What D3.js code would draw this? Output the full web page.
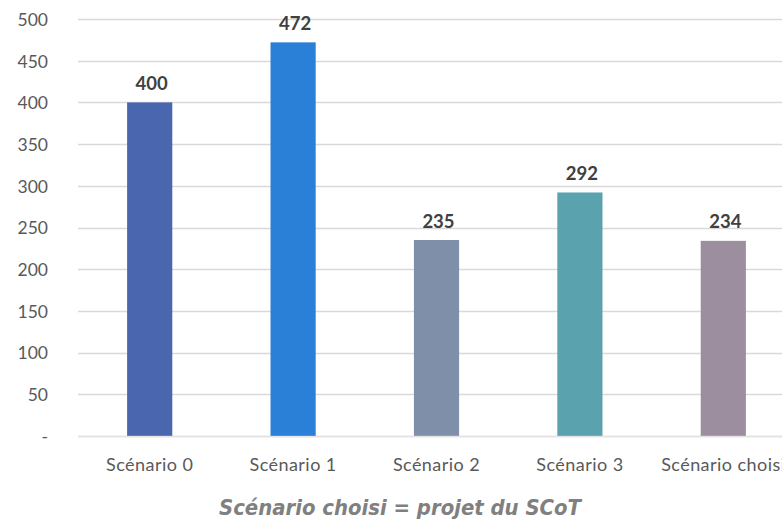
<!DOCTYPE html>
<html>
<head>
<meta charset="utf-8">
<script src="https://cdn.jsdelivr.net/npm/d3@7"></script>
<style>
  html, body { margin: 0; padding: 0; background: #ffffff; overflow: hidden; }
  svg { display: block; }
</style>
</head>
<body>
<svg id="chart" width="782" height="522"></svg>
<script>
// Scenario labels and their values
const categories = ["Scénario 0", "Scénario 1", "Scénario 2", "Scénario 3", "Scénario choisi"];
const values = [400, 472, 235, 292, 234];
const barColors = ["#4a66ae", "#2a7fd6", "#7f8fa9", "#5aa3ae", "#9d8e9f"];
const yTicks = [0, 50, 100, 150, 200, 250, 300, 350, 400, 450, 500];
const yTickLabels = ["-", "50", "100", "150", "200", "250", "300", "350", "400", "450", "500"];
const titleText = "Scénario choisi = projet du SCoT";

const svg = d3.select("#chart");

// plot area (extends past the right edge, so the last label is clipped)
const plotLeft = 78, plotRight = 795, plotTop = 19, plotBottom = 436;

const x = d3.scaleBand().domain(categories).range([plotLeft, plotRight]).paddingInner(0.685).paddingOuter(0.3425);
const y = d3.scaleLinear().domain([0, 500]).range([plotBottom, plotTop]);

const labelFont = "Lato, 'Open Sans', sans-serif";

// horizontal gridlines
svg.append("g")
  .selectAll("line")
  .data(yTicks)
  .join("line")
  .attr("x1", plotLeft).attr("x2", plotRight)
  .attr("y1", d => Math.round(y(d)) + 0.5).attr("y2", d => Math.round(y(d)) + 0.5)
  .attr("stroke", "#d9d9d9").attr("stroke-width", 1.5);

// y-axis labels
const yAxis = d3.axisLeft(y)
  .tickValues(yTicks)
  .tickFormat((d, i) => yTickLabels[i])
  .tickSize(0).tickPadding(0);
const gy = svg.append("g").attr("transform", "translate(48,0)").call(yAxis);
gy.select(".domain").remove();
gy.selectAll("text")
  .attr("font-family", labelFont).attr("font-size", 17.5)
  .attr("fill", "#595959").attr("dy", "0.36em");

// bars
svg.append("g")
  .selectAll("rect")
  .data(values)
  .join("rect")
  .attr("x", (d, i) => x(categories[i]))
  .attr("width", x.bandwidth())
  .attr("y", d => y(d))
  .attr("height", d => y(0) - y(d))
  .attr("fill", (d, i) => barColors[i]);

// baseline drawn over the bar bottoms
svg.append("line")
  .attr("x1", plotLeft).attr("x2", plotRight)
  .attr("y1", Math.round(y(0)) + 0.5).attr("y2", Math.round(y(0)) + 0.5)
  .attr("stroke", "#e6e6e6").attr("stroke-opacity", 0.75).attr("stroke-width", 1.5);

// value labels above bars
svg.append("g")
  .selectAll("text")
  .data(values)
  .join("text")
  .attr("x", (d, i) => x(categories[i]) + x.bandwidth() / 2 + 2)
  .attr("y", d => y(d) - 12.5)
  .attr("text-anchor", "middle")
  .attr("font-family", labelFont).attr("font-weight", 700).attr("font-size", 18.5)
  .attr("fill", "#404040")
  .text(d => d);

// category axis labels
const xAxis = d3.axisBottom(x).tickSize(0).tickPadding(0);
const gx = svg.append("g").attr("transform", "translate(0,471)").call(xAxis);
gx.select(".domain").remove();
gx.selectAll("text")
  .attr("font-family", labelFont).attr("font-size", 18)
  .attr("letter-spacing", "0.45px")
  .attr("fill", "#595959").attr("dy", 0);

// caption under the chart
svg.append("text")
  .attr("x", 400).attr("y", 515)
  .attr("text-anchor", "middle")
  .attr("font-family", "'DejaVu Sans', sans-serif")
  .attr("font-style", "italic").attr("font-weight", 700).attr("font-size", 22)
  .attr("fill", "#808080")
  .attr("textLength", 362).attr("lengthAdjust", "spacingAndGlyphs")
  .text(titleText);
</script>
</body>
</html>
